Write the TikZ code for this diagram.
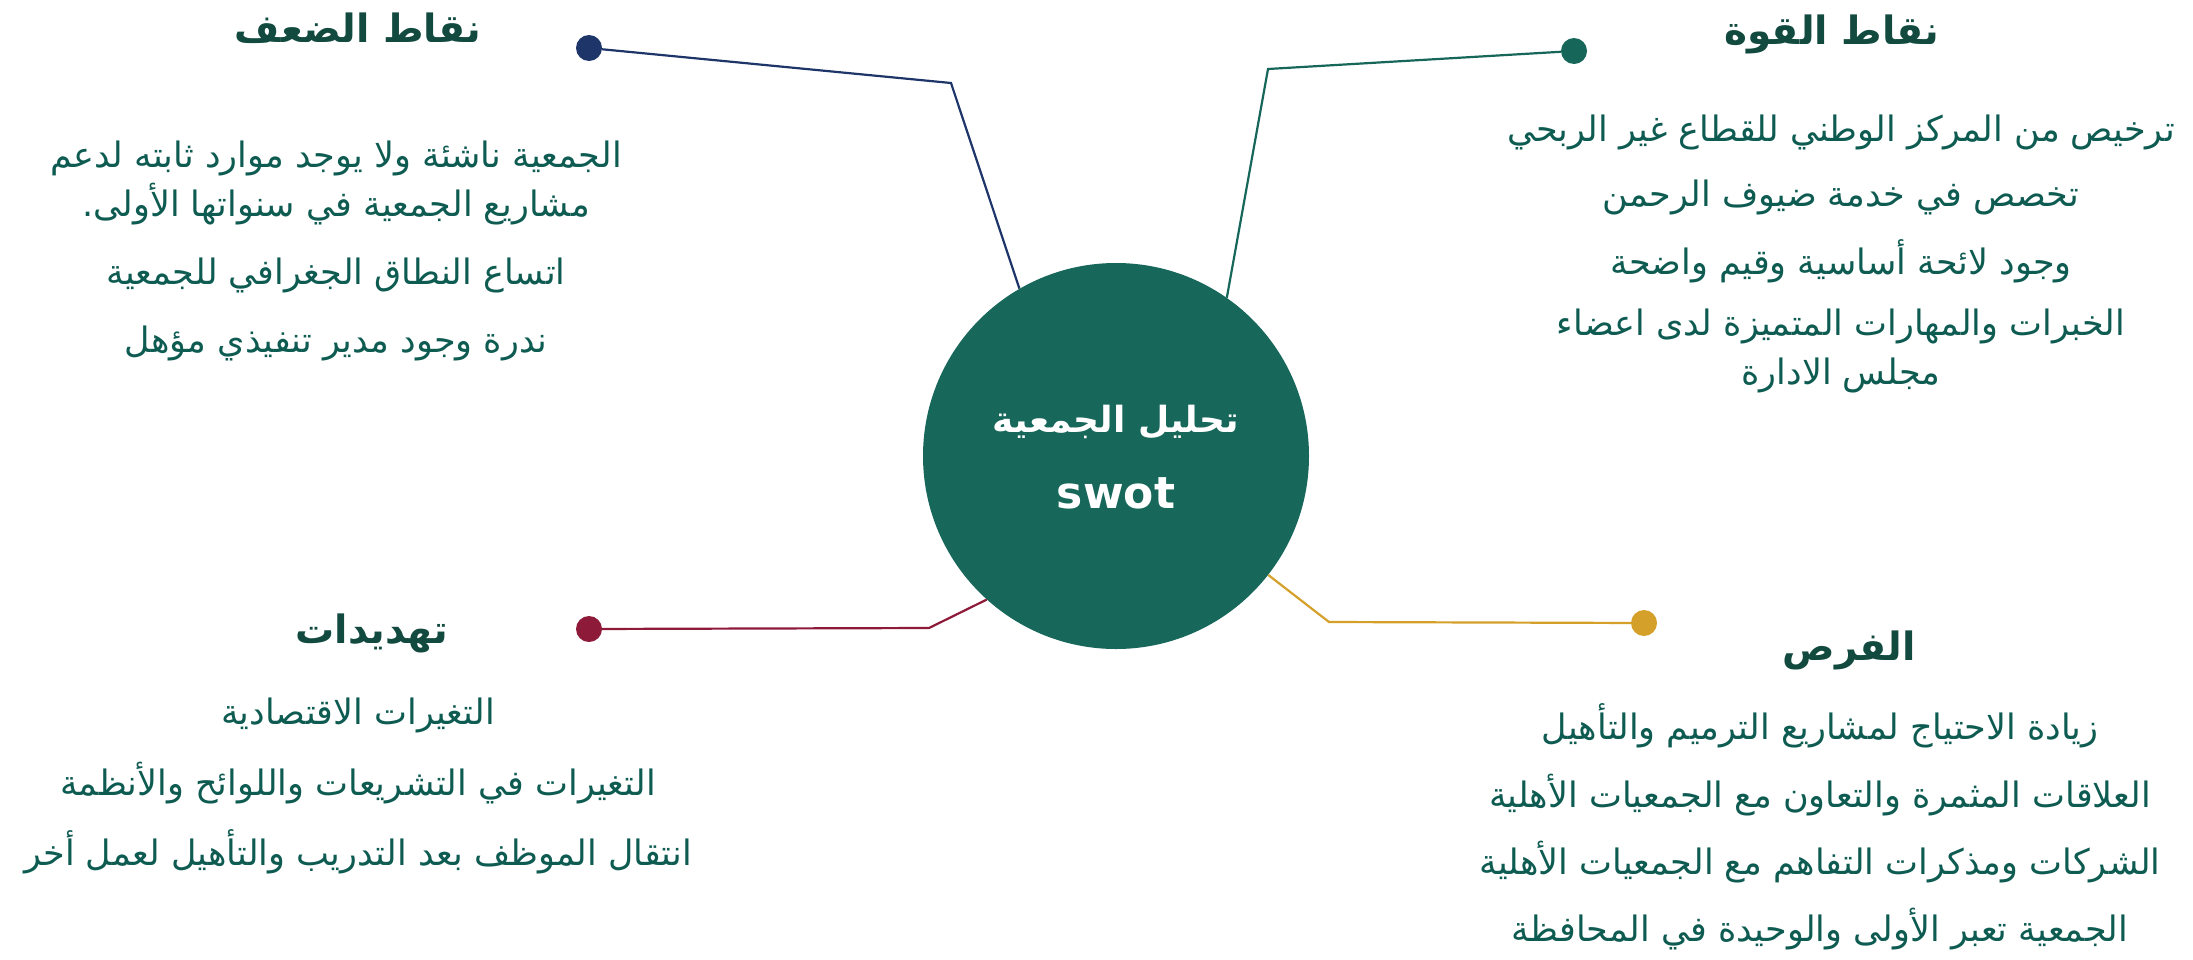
\documentclass[tikz,border=0pt]{standalone}
\usepackage{fontspec}
\setmainfont{DejaVu Sans}
\newfontfamily\arabicfont[Script=Arabic]{DejaVu Sans}
\TeXXeTstate=1
\definecolor{circfill}{HTML}{17675A}
\definecolor{headcol}{HTML}{124A3F}
\definecolor{bodycol}{HTML}{0E5B52}
\definecolor{weakcol}{HTML}{1E3569}
\definecolor{strcol}{HTML}{17665A}
\definecolor{thrcol}{HTML}{8E1A3A}
\definecolor{oppcol}{HTML}{D4A02A}
\def\artext#1{\beginR #1\endR}

\begin{document}
\begin{tikzpicture}[x=1pt, y=-1pt,
		dot/.style={circle, fill=#1, minimum size=26pt, inner sep=0pt},
		link/.style={line width=2.2pt, color=#1},
		heading/.style={color=headcol, font=\arabicfont\bfseries\fontsize{39}{44}\selectfont, inner sep=0pt},
		item/.style={color=bodycol, font=\arabicfont\fontsize{35}{49}\selectfont, inner sep=0pt, align=center}]
		%%%%% START %%%%%
		
		\useasboundingbox (0, 0) rectangle (2193, 959);
		
		% connectors
		\node[dot=weakcol] (dotW) at (589, 48) {};
		\node[dot=strcol] (dotS) at (1574, 51) {};
		\node[dot=thrcol] (dotT) at (589, 629) {};
		\node[dot=oppcol] (dotO) at (1644, 623) {};
		\coordinate (elbW) at (951, 83);
		\coordinate (elbS) at (1268, 69);
		\coordinate (elbT) at (929, 628);
		\coordinate (elbO) at (1329, 622);
		
		\node[circle, fill=circfill, minimum size=386pt, inner sep=0pt] (swot) at (1116, 456) {};
		
		\draw[link=weakcol] (dotW) -- (elbW) -- (swot.120);
		\draw[link=strcol] (dotS) -- (elbS) -- (swot.55);
		\draw[link=thrcol] (dotT) -- (elbT) -- (swot.-132);
		\draw[link=oppcol] (dotO) -- (elbO) -- (swot.-38);
		
		\node[color=white, font=\arabicfont\bfseries\fontsize{36}{40}\selectfont] (swotAr) at (1116, 422) {\artext{تحليل الجمعية}};
		\node[color=white, font=\bfseries\fontsize{44}{48}\selectfont] (swotEn) at (1116, 493) {swot};
		
		% weaknesses
		\node[heading] (hW) at (358, 28) {\artext{نقاط الضعف}};
		\node[item] (w1) at (336, 183) {\artext{الجمعية ناشئة  ولا يوجد موارد ثابته لدعم}\\\artext{مشاريع الجمعية في سنواتها الأولى.}};
		\node[item] (w2) at (336, 275) {\artext{اتساع النطاق الجغرافي للجمعية}};
		\node[item] (w3) at (336, 343) {\artext{ندرة وجود مدير تنفيذي مؤهل}};
		
		% strengths
		\node[heading] (hS) at (1832, 34) {\artext{نقاط القوة}};
		\node[item] (s1) at (1841, 132) {\artext{ترخيص من المركز الوطني للقطاع غير الربحي}};
		\node[item] (s2) at (1841, 197) {\artext{تخصص في خدمة ضيوف الرحمن}};
		\node[item] (s3) at (1841, 261) {\artext{وجود لائحة أساسية وقيم واضحة}};
		\node[item] (s4) at (1841, 351) {\artext{الخبرات والمهارات المتميزة لدى اعضاء}\\\artext{مجلس الادارة}};
		
		% threats
		\node[heading] (hT) at (372, 633) {\artext{تهديدات}};
		\node[item] (t1) at (358, 715) {\artext{التغيرات الاقتصادية}};
		\node[item] (t2) at (358, 783) {\artext{التغيرات في التشريعات واللوائح والأنظمة}};
		\node[item] (t3) at (358, 852) {\artext{انتقال الموظف بعد التدريب والتأهيل لعمل أخر}};
		
		% opportunities
		\node[heading] (hO) at (1849, 650) {\artext{الفرص}};
		\node[item] (o1) at (1820, 726) {\artext{زيادة الاحتياج لمشاريع الترميم والتأهيل}};
		\node[item] (o2) at (1820, 795) {\artext{العلاقات المثمرة والتعاون  مع الجمعيات الأهلية}};
		\node[item] (o3) at (1820, 862) {\artext{الشركات ومذكرات التفاهم مع الجمعيات الأهلية}};
		\node[item] (o4) at (1820, 929) {\artext{الجمعية تعبر الأولى والوحيدة في المحافظة}};
		
		%%%%% END %%%%%
\end{tikzpicture}
\end{document}
